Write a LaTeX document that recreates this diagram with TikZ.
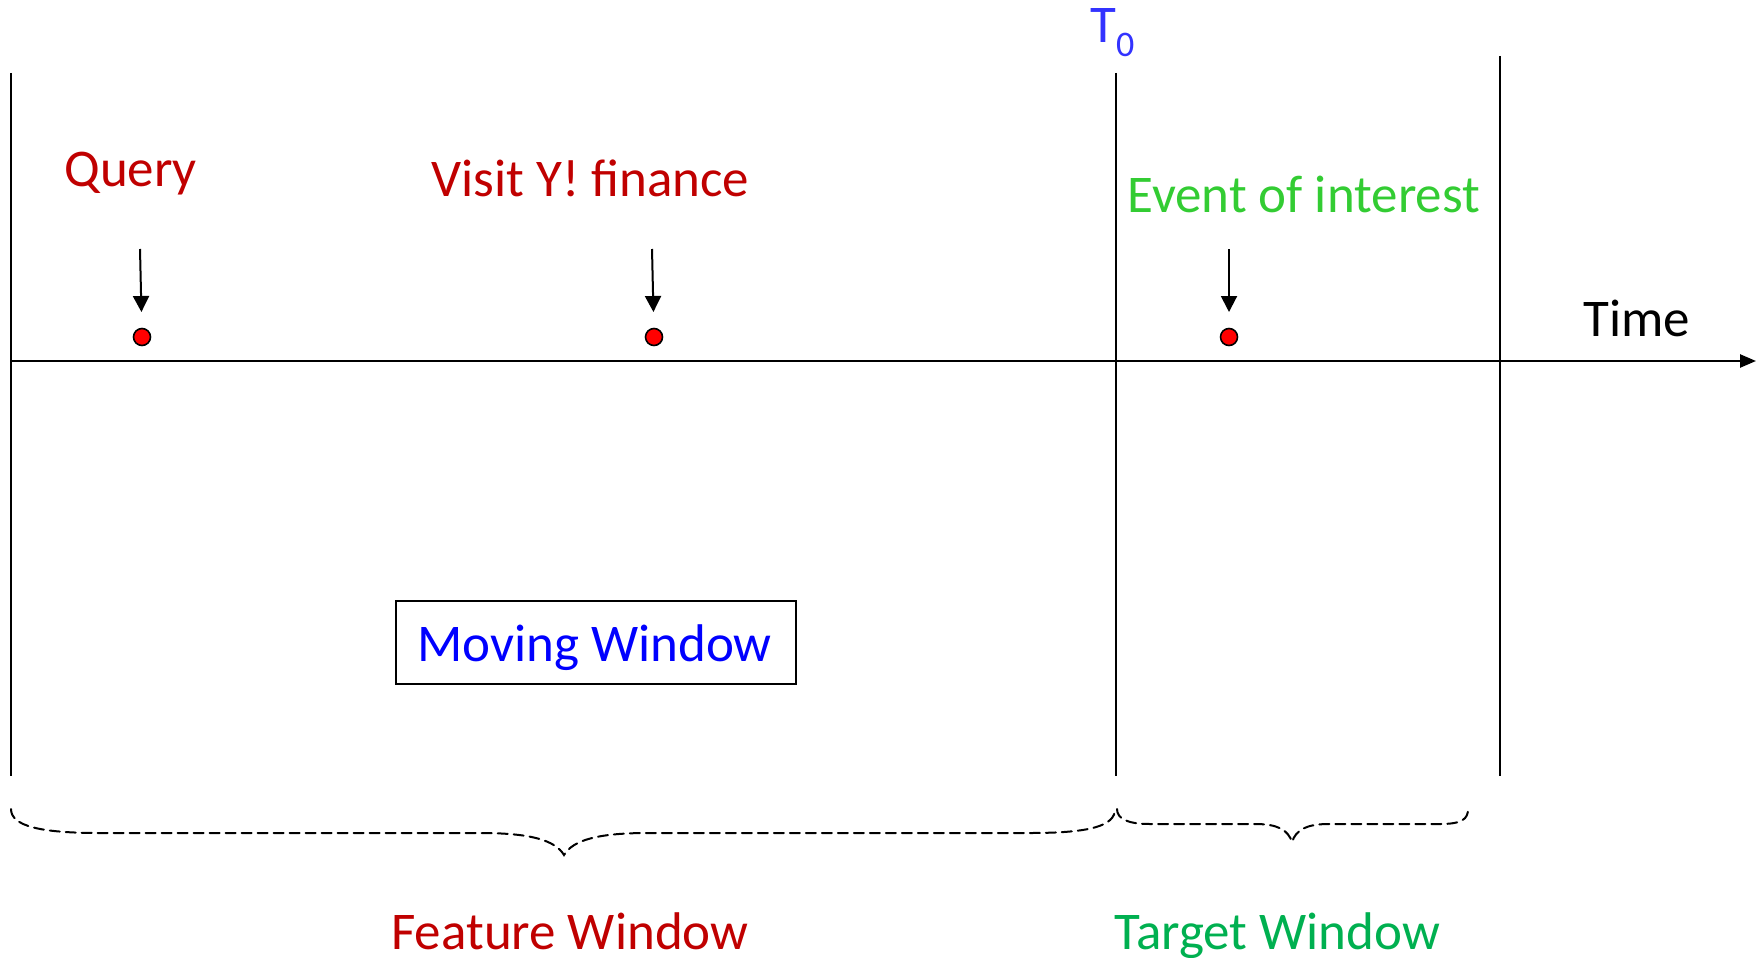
\documentclass[tikz,border=0pt]{standalone}
\usepackage{fontspec}
\setmainfont{Carlito}
\usetikzlibrary{arrows.meta}
\definecolor{darkred}{RGB}{192,0,0}
\definecolor{evgreen}{RGB}{51,204,51}
\definecolor{tgtgreen}{RGB}{0,176,80}
\definecolor{tblue}{RGB}{51,51,255}
\definecolor{mvblue}{RGB}{0,0,255}
\begin{document}
\begin{tikzpicture}[x=0.5pt,y=-0.5pt,
  lbl/.style={inner sep=0pt,anchor=base west,font=\fontsize{26.5}{32}\selectfont},
  vline/.style={line width=1pt},
  pointer/.style={line width=1pt,-{Triangle[length=8pt,width=8pt]},shorten >=12.5pt},
  evdot/.style={circle,draw=black,fill=red,line width=0.8pt,minimum size=8.5pt,inner sep=0pt},
  bracepath/.style={line width=1pt,dash pattern=on 5pt off 3pt,line cap=round}]
\useasboundingbox (0,0) rectangle (1764,957);

% window boundaries
\coordinate (l0) at (11,73);   \coordinate (l1) at (11,776);
\coordinate (t0) at (1116,73); \coordinate (t1) at (1116,776);
\coordinate (r0) at (1500,56); \coordinate (r1) at (1500,776);
\draw[vline] (l0) -- (l1);
\draw[vline] (t0) -- (t1);
\draw[vline] (r0) -- (r1);

% time axis
\coordinate (ax0) at (11,361); \coordinate (ax1) at (1756,361);
\draw[line width=1.2pt,-{Triangle[length=8pt,width=6.5pt]}] (ax0) -- (ax1);
\node[lbl] (time) at (1583,336) {Time};

% T0 marker
\node[lbl,text=tblue] (tzero) at (1090,43) {T\raisebox{-7pt}{\fontsize{18}{20}\selectfont 0}};

% events on the axis
\node[evdot] (d1) at (142,337) {};
\node[evdot] (d2) at (654,337) {};
\node[evdot] (d3) at (1229,337) {};
\coordinate (p1) at (140,249);
\coordinate (p2) at (652,249);
\coordinate (p3) at (1229,249);
\draw[pointer] (p1) -- (d1.center);
\draw[pointer] (p2) -- (d2.center);
\draw[pointer] (p3) -- (d3.center);

\node[lbl,text=darkred] (query) at (64,187) {Query};
\node[lbl,text=darkred] (visit) at (431,197) {Visit Y! finance};
\node[lbl,text=evgreen] (event) at (1127,213) {Event of interest};

% moving window box
\draw[line width=1pt] (396,601) rectangle (796,684);
\node[lbl,text=mvblue] (moving) at (417,661) {Moving Window};

% feature window brace
\draw[bracepath] (11,809) .. controls (11,826) and (40,833) .. (100,833)
  -- (480,833) .. controls (530,833) and (555,840) .. (564,855)
  .. controls (573,840) and (598,833) .. (648,833)
  -- (1030,833) .. controls (1090,833) and (1115,826) .. (1115,809);

% target window brace
\draw[bracepath] (1117,809) .. controls (1117,819) and (1128,824) .. (1150,824)
  -- (1255,824) .. controls (1278,824) and (1288,830) .. (1292,842)
  .. controls (1296,830) and (1306,824) .. (1329,824)
  -- (1440,824) .. controls (1462,824) and (1468,819) .. (1468,809);

\node[lbl,text=darkred] (feature) at (391,949) {Feature Window};
\node[lbl,text=tgtgreen] (target) at (1114,949) {Target Window};
\end{tikzpicture}
\end{document}
